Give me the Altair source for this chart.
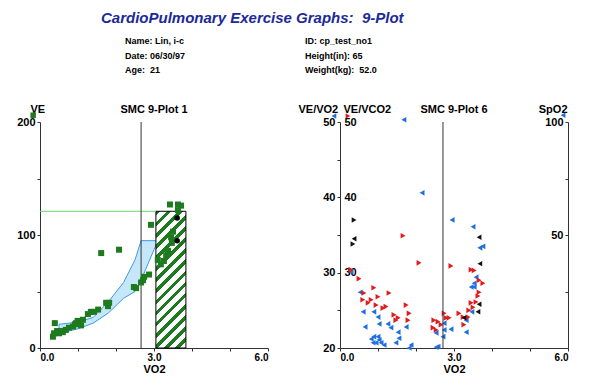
import altair as alt
import pandas as pd

FONT = "Liberation Sans"
GREEN = "#1e7a1e"
BLUE = "#1f6fe0"
RED = "#e01b1b"
NB = "\u00a0"

# ---------------- header text ----------------
title_text = ["CardioPulmonary Exercise Graphs:" + NB + " 9-Plot"]
info_text = ["Name: Lin, i-c", "Date: 06/30/97", "Age:" + NB + " 21",
             "ID: cp_test_no1", "Height(in): 65", "Weight(kg):" + NB + " 52.0"]
info_col = [85, 85, 85, 265, 265, 265]
info_row = [36, 51, 65, 36, 51, 65]

# ---------------- panel 1: VE vs VO2 ----------------
ve_vo2 = [0.34, 0.37, 0.39, 0.45, 0.50, 0.55, 0.60, 0.68, 0.76, 0.87, 0.92, 0.95, 0.99,
          1.03, 1.08, 1.13, 1.26, 1.34, 1.42, 1.53, 1.74, 1.79, 1.82, 1.61, 2.08,
          2.47, 2.53, 2.66, 2.71, 2.74, 2.87, 2.92, 3.10, 3.18, 3.26, 3.32, 3.37,
          3.45, 3.47, 3.50, 3.42, 3.63, 3.71, 3.63]
ve = [10, 13, 22, 15, 13, 15, 14, 16, 18, 19, 21, 22, 24,
      23, 20, 25, 30, 32, 32, 34, 40, 37, 40, 84, 87,
      54, 53, 58, 60, 63, 65, 109, 78, 74, 77, 82, 86,
      98, 93, 103, 127, 127, 126, 122]
black_vo2 = [3.61, 3.61]
black_ve = [115, 95]

band_vo2 = [0.5, 1.0, 1.4, 1.8, 2.2, 2.5, 2.66, 3.0, 3.1]
band_upper = [21, 23, 27, 41, 58, 78, 95, 95, 95]
band_lower = [13, 17, 22, 31, 44, 50, 60, 87, 95]

rect_vo2 = [3.05]
rect_vo2_end = [3.84]
rect_ve = [121]
rect_ve0 = [0]
hline_vo2_start = [0]
at1 = [2.66]
ve_marker = ([-0.18], [206])

# ---------------- panel 6: ventilatory equivalents ----------------
blue_vo2 = [1.68, 2.16, 2.95, 3.50, 3.76, 3.68, 0.29, 0.53, 0.61, 0.89, 1.00, 1.03,
            1.26, 1.34, 1.53, 1.74, 0.66, 0.82, 0.89, 1.00, 1.03, 0.87, 0.95, 1.08,
            1.16, 1.47, 1.55, 1.87, 1.82, 2.53, 2.53, 3.58, 3.53, 3.45, 3.53, 3.47,
            3.32, 3.32, 2.74, 2.74, 2.92, 2.71, 2.58]
blue_v = [50.3, 40.6, 37.0, 36.1, 33.5, 33.3, 30.1, 27.4, 24.8, 24.8, 24.1, 23.2,
          23.2, 22.7, 22.1, 22.8, 22.8, 21.2, 21.5, 21.5, 21.1, 20.7, 20.7, 20.7,
          20.4, 20.7, 21.3, 20.4, 20.0, 22.0, 20.1, 29.4, 28.6, 28.1, 28.1, 24.8,
          23.7, 22.1, 23.3, 22.4, 22.5, 21.5, 20.2]
red_vo2 = [0.29, 0.50, 2.08, 1.66, 0.63, 0.89, 0.60, 0.74, 0.82, 1.00, 1.29, 0.95,
           1.13, 1.21, 1.74, 1.42, 1.53, 1.47, 1.82, 1.79, 2.45, 2.53, 2.66, 2.92,
           3.45, 3.53, 3.66, 3.76, 3.66, 3.63, 3.58, 3.45, 3.50, 3.39, 3.13, 3.24,
           3.37, 3.26, 2.74, 2.79, 2.87, 2.47, 2.58]
red_v = [30.4, 29.2, 31.3, 34.9, 27.3, 28.0, 26.4, 26.0, 26.4, 26.8, 27.3, 25.7,
         25.3, 25.5, 25.7, 24.4, 24.0, 23.7, 24.6, 23.7, 22.7, 22.4, 23.1, 30.9,
         30.4, 30.3, 29.0, 28.6, 27.4, 26.9, 26.1, 26.0, 25.4, 25.0, 24.6, 24.1,
         24.1, 23.1, 24.6, 24.0, 24.0, 23.7, 23.5]
dark_vo2 = [0.37, 0.37, 0.34, 3.66, 3.68, 3.66, 3.63, 3.26]
dark_v = [37.0, 34.5, 33.8, 34.7, 31.2, 25.8, 24.8, 24.0]
dark_dir = ["R", "L", "R", "L", "L", "L", "L", "L"]
at6 = [2.71]
vevo2_marker = ([-0.16], [50.8])
vevco2_marker = ([0.21], [50.8])
spo2_marker = ([5.87], [103])

W, H = 228, 226
HW, HH = W * 2 + 72, 90

base_axis = dict(labelFont=FONT, labelFontWeight="bold", labelFontSize=11,
                 labelColor="black", titleFont=FONT, titleFontWeight="bold",
                 titleFontSize=11, titleColor="black", domainColor="#333",
                 tickColor="#333", tickSize=3, grid=False)
x_axis_style = dict(base_axis, labelFontSize=10)

X_AXIS = alt.Axis(values=[0, 1, 2, 3, 4, 5, 6], title="VO2",
                  labelExpr="datum.value % 3 == 0 ? format(datum.value, '.1f') : ''",
                  titleBaseline="alphabetic", titleY=24, labelPadding=1, **x_axis_style)
Y1_AXIS = alt.Axis(values=[0, 50, 100, 150, 200],
                   labelExpr="datum.value % 100 == 0 ? datum.label : ''",
                   title="VE", titleAngle=0, titleAlign="left",
                   titleBaseline="alphabetic", titleX=-10, titleY=-10,
                   labelPadding=2, **base_axis)

xs = alt.Scale(domain=[0, 6], nice=False, zero=False)
ys1 = alt.Scale(domain=[0, 200], nice=False, zero=False)


def X(f):
    return alt.X(f, scale=xs, axis=X_AXIS)


def Y1(f):
    return alt.Y(f, scale=ys1, axis=Y1_AXIS)


# ---- panel 1 ----
band = alt.Chart(pd.DataFrame({"x": band_vo2, "u": band_upper, "l": band_lower})).mark_area(
    fill="#bfe4f8", fillOpacity=0.9, stroke="#3b9be6", strokeWidth=1
).encode(x=X("x:Q"), y=Y1("u:Q"), y2="l:Q")

N = 15
stops = []
for i in range(N):
    a, b, c = i / N, (i + 0.42) / N, (i + 1) / N
    stops += [alt.GradientStop(offset=a, color=GREEN), alt.GradientStop(offset=b, color=GREEN),
              alt.GradientStop(offset=b, color="white"), alt.GradientStop(offset=c, color="white")]
hatch = alt.LinearGradient(gradient="linear", stops=stops, x1=0, y1=0, x2=0.255, y2=1.163)

rect = alt.Chart(pd.DataFrame({"x0": rect_vo2, "x1": rect_vo2_end, "y1": rect_ve, "y0": rect_ve0})).mark_rect(
    fill=hatch, stroke="black", strokeWidth=1
).encode(x=X("x0:Q"), x2="x1:Q", y=Y1("y1:Q"), y2="y0:Q")

hline = alt.Chart(pd.DataFrame({"x0": hline_vo2_start, "x1": rect_vo2, "y": rect_ve})).mark_rule(
    color="#6fd36f", strokeWidth=1
).encode(x=X("x0:Q"), x2="x1:Q", y=Y1("y:Q"))

atline1 = alt.Chart(pd.DataFrame({"at": at1})).mark_rule(color="#333", strokeWidth=1).encode(
    x=X("at:Q"))

pts1 = alt.Chart(pd.DataFrame({"x": ve_vo2, "y": ve})).mark_square(
    size=36, color=GREEN, opacity=1
).encode(x=X("x:Q"), y=Y1("y:Q"))

blk1 = alt.Chart(pd.DataFrame({"x": black_vo2, "y": black_ve})).mark_circle(
    size=30, color="black", opacity=1
).encode(x=X("x:Q"), y=Y1("y:Q"))

mk1 = alt.Chart(pd.DataFrame({"x": ve_marker[0], "y": ve_marker[1]})).mark_square(
    size=30, color=GREEN, opacity=1
).encode(x=X("x:Q"), y=Y1("y:Q"))

ttl1 = alt.Chart(pd.DataFrame({"t": ["SMC 9-Plot 1"]})).mark_text(
    font=FONT, fontWeight="bold", fontSize=11, baseline="alphabetic", align="center"
).encode(text="t:N", x=alt.value(W / 2), y=alt.value(-9))

panel1 = alt.layer(band, rect, hline, atline1, pts1, blk1, mk1, ttl1).properties(width=W, height=H)

# ---- panel 6 ----
vs = alt.Scale(domain=[20, 50], nice=False, zero=False)
ss = alt.Scale(domain=[0, 100], nice=False, zero=False)

blue = alt.Chart(pd.DataFrame({"x": blue_vo2, "y": blue_v})).mark_point(
    shape="triangle-left", filled=True, size=32, color=BLUE, opacity=1
).encode(x=X("x:Q"),
         y=alt.Y("y:Q", scale=vs,
                 axis=alt.Axis(orient="left", values=[20, 25, 30, 35, 40, 45, 50],
                               labelExpr="datum.value % 10 == 0 ? datum.label : ''",
                               title="VE/VO2", titleAngle=0, titleAlign="left",
                               titleBaseline="alphabetic", titleX=-42, titleY=-10,
                               labelPadding=2, **base_axis)))

red = alt.Chart(pd.DataFrame({"x": red_vo2, "y": red_v})).mark_point(
    shape="triangle-right", filled=True, size=32, color=RED, opacity=1
).encode(x=X("x:Q"),
         y=alt.Y("y:Q", scale=vs,
                 axis=alt.Axis(orient="right", offset=-W, values=[30, 40, 50],
                               ticks=False, domain=False,
                               title="VE/VCO2", titleAngle=0, titleAlign="left",
                               titleBaseline="alphabetic", titleX=3, titleY=-10,
                               labelPadding=4, **base_axis)))

spo2 = alt.Chart(pd.DataFrame({"x": spo2_marker[0], "y": spo2_marker[1]})).mark_point(
    shape="triangle-left", filled=True, size=30, color=BLUE, opacity=1
).encode(x=X("x:Q"),
         y=alt.Y("y:Q", scale=ss,
                 axis=alt.Axis(orient="left", offset=-W, values=[0, 25, 50, 75, 100],
                               labelExpr="datum.value % 50 == 0 && datum.value > 0 ? datum.label : ''",
                               title="SpO2", titleAngle=0, titleAlign="right",
                               titleBaseline="alphabetic", titleX=-1, titleY=-10,
                               labelPadding=2, **base_axis)))

dark = alt.Chart(pd.DataFrame({"x": dark_vo2, "y": dark_v, "d": dark_dir})).mark_point(
    filled=True, size=30, color="#111", opacity=1
).encode(x=X("x:Q"),
         y=alt.Y("y:Q", scale=vs, axis=None),
         shape=alt.Shape("d:N", scale=alt.Scale(domain=["L", "R"], range=["triangle-left", "triangle-right"]),
                         legend=None))

mkb = alt.Chart(pd.DataFrame({"x": vevo2_marker[0], "y": vevo2_marker[1]})).mark_point(
    shape="triangle-left", filled=True, size=30, color=BLUE, opacity=1
).encode(x=X("x:Q"), y=alt.Y("y:Q", scale=vs, axis=None))
mkr = alt.Chart(pd.DataFrame({"x": vevco2_marker[0], "y": vevco2_marker[1]})).mark_point(
    shape="triangle-right", filled=True, size=30, color=RED, opacity=1
).encode(x=X("x:Q"), y=alt.Y("y:Q", scale=vs, axis=None))

atline6 = alt.Chart(pd.DataFrame({"at": at6})).mark_rule(color="#333", strokeWidth=1).encode(
    x=X("at:Q"))

ttl6 = alt.Chart(pd.DataFrame({"t": ["SMC 9-Plot 6"]})).mark_text(
    font=FONT, fontWeight="bold", fontSize=11, baseline="alphabetic", align="center"
).encode(text="t:N", x=alt.value(W / 2), y=alt.value(-9))

panel6 = alt.layer(blue, red, spo2, atline6, dark, mkb, mkr, ttl6).resolve_scale(
    y="independent").properties(width=W, height=H)

# ---- header ----
hx = alt.Scale(domain=[0, HW], nice=False, zero=False)
hy = alt.Scale(domain=[0, HH], nice=False, zero=False, reverse=True)
hdr_title = alt.Chart(pd.DataFrame({"t": title_text, "x": [61], "y": [15]})).mark_text(
    font=FONT, fontWeight="bold", fontStyle="italic", fontSize=15, color="#1b2a99",
    align="left", baseline="alphabetic"
).encode(text="t:N", x=alt.X("x:Q", scale=hx, axis=None), y=alt.Y("y:Q", scale=hy, axis=None))
hdr_info = alt.Chart(pd.DataFrame({"t": info_text, "x": info_col, "y": info_row})).mark_text(
    font=FONT, fontWeight="bold", fontSize=9, color="black",
    align="left", baseline="alphabetic"
).encode(text="t:N", x=alt.X("x:Q", scale=hx, axis=None), y=alt.Y("y:Q", scale=hy, axis=None))
header = alt.layer(hdr_title, hdr_info).properties(width=HW, height=HH)

panels = alt.hconcat(panel1, panel6, spacing=72, bounds="flush")
chart = alt.vconcat(header, panels, spacing=24, bounds="flush").properties(
    padding={"left": 8, "top": 0, "right": 0, "bottom": 0}, background="white"
).configure_view(stroke=None)

chart.save("out.html", embed_options={"renderer": "svg", "actions": False})
